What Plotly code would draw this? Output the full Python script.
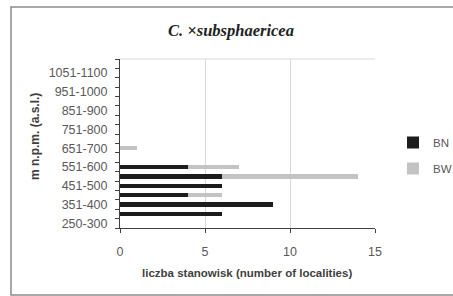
import plotly.graph_objects as go

categories = ["250-300", "301-350", "351-400", "401-450", "451-500", "501-550",
              "551-600", "601-650", "651-700", "701-750", "751-800", "801-850",
              "851-900", "901-950", "951-1000", "1001-1050", "1051-1100", "1101-1150"]
bn_values = [0, 6, 9, 4, 6, 6, 4, 0, 0, 0, 0, 0, 0, 0, 0, 0, 0, 0]
bw_values = [0, 0, 0, 2, 0, 8, 3, 0, 1, 0, 0, 0, 0, 0, 0, 0, 0, 0]
tick_labels = [c if i % 2 == 0 and i < 17 else "" for i, c in enumerate(categories)]
x_ticks = [0, 5, 10, 15]

W, H = 453, 296
L, R, T, B = 120, 78, 59, 68
pw, ph = W - L - R, H - T - B

def px(xp):
    return (xp - L) / pw

def py(yp):
    return (H - B - yp) / ph

fig = go.Figure()
fig.add_trace(go.Bar(y=categories, x=bn_values, orientation="h", name="BN",
                     legendgroup="a",
                     marker=dict(color="#1c1c1c", line=dict(width=0))))
fig.add_trace(go.Bar(y=categories, x=bw_values, orientation="h", name="BW",
                     legendgroup="b",
                     marker=dict(color="#c3c3c3", line=dict(width=0))))

fig.update_layout(
    width=W, height=H,
    margin=dict(l=L, r=R, t=T, b=B, autoexpand=False),
    barmode="stack", bargap=0.52,
    paper_bgcolor="white", plot_bgcolor="white",
    font=dict(family="Liberation Sans, Arial, sans-serif", color="#595959", size=12),
    title=dict(text="<b><i>C. ×subsphaericea</i></b>", x=231 / W, xanchor="center",
               y=1 - 30 / H, yanchor="middle",
               font=dict(family="Liberation Serif, Times New Roman, serif", size=16.5, color="#222222")),
    xaxis=dict(range=[0, 15], tickvals=x_ticks, showgrid=True, gridcolor="#d9d9d9", gridwidth=1,
               showline=True, linecolor="#404040", linewidth=1, ticks="outside", ticklen=4,
               tickcolor="#404040", zeroline=False, ticklabelstandoff=8,
               tickfont=dict(size=12.5, color="#595959"), mirror=False),
    yaxis=dict(type="category", categoryorder="array", categoryarray=categories,
               tickvals=categories, ticktext=tick_labels, tickson="boundaries",
               showline=True, linecolor="#404040", linewidth=1, ticks="outside", ticklen=4,
               tickcolor="#404040", showgrid=False, ticklabelstandoff=9,
               tickfont=dict(size=12.5, color="#595959")),
    legend=dict(x=px(393), y=py(128), xanchor="left", yanchor="top",
                font=dict(size=11.5, color="#595959"), tracegroupgap=7,
                itemwidth=30, traceorder="grouped", bgcolor="rgba(0,0,0,0)"),
    showlegend=True,
)

# plot area top border (light grey)
fig.add_shape(type="line", xref="paper", yref="paper", x0=0, x1=1, y0=1, y1=1,
              line=dict(color="#d9d9d9", width=1))
# outer chart frame
fig.add_shape(type="rect", xref="paper", yref="paper",
              x0=px(11), x1=px(470), y0=py(295), y1=py(7),
              line=dict(color="#8a8a8a", width=1.5), layer="below")

fig.add_annotation(text="<b>m n.p.m. (a.s.l.)</b>", xref="paper", yref="paper",
                   x=px(35), y=py(137), textangle=-90, showarrow=False,
                   xanchor="center", yanchor="middle",
                   font=dict(size=12, color="#404040"))
fig.add_annotation(text="<b>liczba stanowisk (number of localities)</b>", xref="paper", yref="paper",
                   x=px(247), y=py(273), showarrow=False, xanchor="center", yanchor="middle",
                   font=dict(size=11.5, color="#404040"))

fig.write_html("out.html", config={"displayModeBar": False},
               post_script="document.body.style.margin='0';")
